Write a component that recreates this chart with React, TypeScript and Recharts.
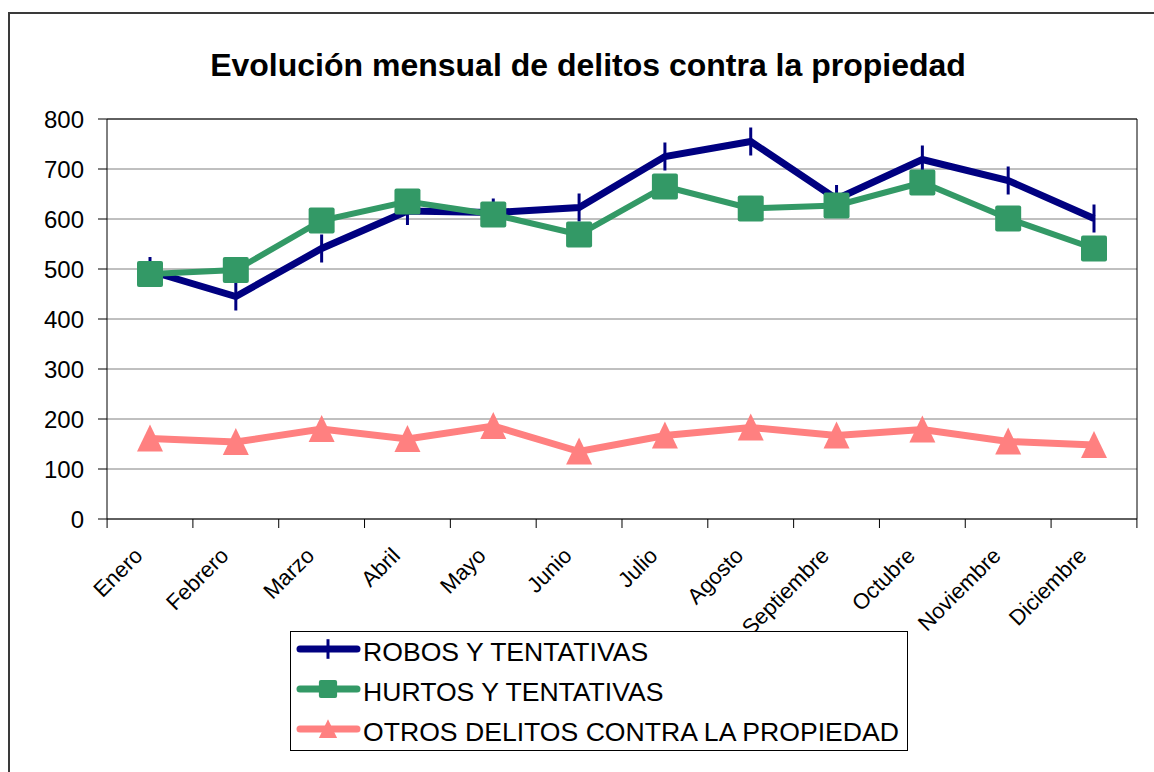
import React from 'react';
import { LineChart, Line, XAxis, YAxis, CartesianGrid, Legend } from 'recharts';

const months = ['Enero', 'Febrero', 'Marzo', 'Abril', 'Mayo', 'Junio', 'Julio', 'Agosto', 'Septiembre', 'Octubre', 'Noviembre', 'Diciembre'];
const robos = [496, 445, 541, 616, 613, 623, 725, 755, 640, 719, 677, 601];
const hurtos = [490, 498, 597, 635, 609, 569, 665, 621, 627, 673, 601, 541];
const otros = [161, 154, 180, 160, 186, 135, 167, 183, 167, 179, 155, 148];
const yTicks = [0, 100, 200, 300, 400, 500, 600, 700, 800];
const seriesOrder = ['robos', 'hurtos', 'otros'];

const FONT = '"Liberation Sans", Arial, sans-serif';
const NAVY = '#000080';
const GREEN = '#339966';
const PINK = '#FF8080';

const data = months.map((mes, i) => ({ mes, robos: robos[i], hurtos: hurtos[i], otros: otros[i] }));

// markers, scaled so the legend can reuse them at a smaller size
const marker = (key: string, cx: number, cy: number, s = 1) => {
  if (key === 'robos') {
    return <line x1={cx} x2={cx} y1={cy - 14 * s} y2={cy + 14 * s} stroke={NAVY} strokeWidth={3} />;
  }
  if (key === 'hurtos') {
    const h = 13 * s;
    return <rect x={cx - h} y={cy - h} width={2 * h} height={2 * h} rx={2} fill={GREEN} />;
  }
  return (
    <polygon
      points={`${cx},${cy - 14 * s} ${cx + 13 * s},${cy + 13 * s} ${cx - 13 * s},${cy + 13 * s}`}
      fill={PINK}
    />
  );
};

const makeDot = (key: string) => (props: any) => {
  const { cx, cy, index } = props;
  if (cx == null || cy == null) return <g key={`${key}-${index}`} />;
  return <g key={`${key}-${index}`}>{marker(key, cx, cy)}</g>;
};

// category ticks sit between months, labels at the month centre
const MonthTick = (props: any) => {
  const { x, y, payload, index, width, visibleTicksCount } = props;
  const band = width / visibleTicksCount;
  const left = x - band / 2;
  const right = x + band / 2;
  const tx = x - 6;
  const ty = y + 38;
  return (
    <g>
      <line x1={left} x2={left} y1={y} y2={y + 9} stroke="#000" />
      {index === visibleTicksCount - 1 && <line x1={right} x2={right} y1={y} y2={y + 9} stroke="#000" />}
      <text
        x={tx}
        y={ty}
        textAnchor="end"
        transform={`rotate(-45, ${tx}, ${ty})`}
        fontSize={22}
        fontFamily={FONT}
        fill="#000"
      >
        {payload.value}
      </text>
    </g>
  );
};

const LegendBox = ({ payload }: any) => {
  const items = [...(payload || [])].sort(
    (a: any, b: any) => seriesOrder.indexOf(a.dataKey) - seriesOrder.indexOf(b.dataKey)
  );
  return (
    <div
      style={{
        width: 618,
        height: 120,
        border: '1px solid #000',
        background: '#fff',
        boxSizing: 'border-box',
        fontFamily: FONT,
      }}
    >
      {items.map((entry: any) => (
        <div key={entry.value} style={{ display: 'flex', alignItems: 'center', height: 40 }}>
          <svg width={66} height={30} style={{ marginLeft: 4, marginTop: -6 }}>
            <line x1={5} x2={62} y1={15} y2={15} stroke={entry.color} strokeWidth={7} strokeLinecap="round" />
            {marker(entry.dataKey, 33, 15, 0.7)}
          </svg>
          <span style={{ fontSize: 26.6, color: '#000', marginLeft: 2, whiteSpace: 'nowrap' }}>{entry.value}</span>
        </div>
      ))}
    </div>
  );
};

const App: React.FC = () => {
  return (
    <div style={{ position: 'absolute', left: 0, top: 0, width: 1154, height: 772, overflow: 'hidden', background: '#fff' }}>
      <div
        style={{
          position: 'absolute',
          left: 8,
          top: 12,
          width: 1300,
          height: 900,
          borderTop: '2px solid #3a3a3a',
          borderLeft: '2px solid #3a3a3a',
        }}
      />
      <div
        style={{
          position: 'absolute',
          left: 0,
          top: 49,
          width: 1176,
          textAlign: 'center',
          fontFamily: FONT,
          fontWeight: 'bold',
          fontSize: 32,
          lineHeight: '32px',
          color: '#000',
        }}
      >
        Evolución mensual de delitos contra la propiedad
      </div>
      <div style={{ position: 'absolute', left: 0, top: 0 }}>
        <LineChart width={1154} height={772} data={data} margin={{ top: 118, right: 16, bottom: 133, left: 47 }}>
          <CartesianGrid vertical={false} stroke="#808080" />
          <XAxis
            dataKey="mes"
            interval={0}
            height={120}
            padding={{ left: 43, right: 43 }}
            tickSize={0}
            tickMargin={0}
            tickLine={false}
            axisLine={{ stroke: '#000' }}
            tick={<MonthTick />}
          />
          <XAxis xAxisId="top" orientation="top" dataKey="mes" height={1} tick={false} tickLine={false} axisLine={{ stroke: '#000' }} />
          <YAxis
            domain={[0, 800]}
            ticks={yTicks}
            interval={0}
            width={60}
            tickSize={9}
            tickMargin={14}
            axisLine={{ stroke: '#000' }}
            tickLine={{ stroke: '#000' }}
            tick={{ fontSize: 24, fill: '#000', fontFamily: FONT }}
          />
          <YAxis yAxisId="right" orientation="right" domain={[0, 800]} ticks={yTicks} width={1} tick={false} tickLine={false} axisLine={{ stroke: '#000' }} />
          <Legend
            layout="horizontal"
            verticalAlign="middle"
            align="center"
            width={618}
            height={120}
            wrapperStyle={{ left: 290, top: 631, width: 618, height: 120 }}
            content={<LegendBox />}
          />
          <Line
            type="linear"
            dataKey="robos"
            name="ROBOS Y TENTATIVAS"
            stroke={NAVY}
            strokeWidth={7}
            dot={makeDot('robos')}
            activeDot={false}
            isAnimationActive={false}
          />
          <Line
            type="linear"
            dataKey="hurtos"
            name="HURTOS Y TENTATIVAS"
            stroke={GREEN}
            strokeWidth={6}
            dot={makeDot('hurtos')}
            activeDot={false}
            isAnimationActive={false}
          />
          <Line
            type="linear"
            dataKey="otros"
            name="OTROS DELITOS CONTRA LA PROPIEDAD"
            stroke={PINK}
            strokeWidth={7}
            dot={makeDot('otros')}
            activeDot={false}
            isAnimationActive={false}
          />
        </LineChart>
      </div>
    </div>
  );
};

export default App;
